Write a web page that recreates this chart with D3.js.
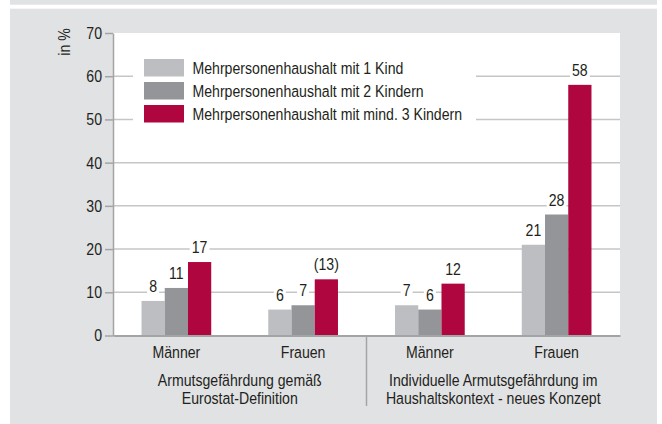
<!DOCTYPE html>
<html>
<head>
<meta charset="utf-8">
<script src="https://cdn.jsdelivr.net/npm/d3@7"></script>
<style>
  body { margin: 0; background: #fff; }
  svg text { font-family: "Liberation Sans", Arial, sans-serif; fill: #231f20; }
</style>
</head>
<body>
<div id="chart"></div>
<script>
const categories = ["Männer", "Frauen", "Männer", "Frauen"];
const groupTitles = [
  ["Armutsgefährdung gemäß", "Eurostat-Definition"],
  ["Individuelle Armutsgefährdung im", "Haushaltskontext - neues Konzept"]
];
const seriesNames = [
  "Mehrpersonenhaushalt mit 1 Kind",
  "Mehrpersonenhaushalt mit 2 Kindern",
  "Mehrpersonenhaushalt mit mind. 3 Kindern"
];
const seriesColors = ["#bdbec1", "#949598", "#b00640"];
const kind1 = [8, 6, 7, 21];
const kind2 = [11, 7, 6, 28];
const kind3 = [17, 13, 12, 58];
const kind3Labels = ["17", "(13)", "12", "58"];
const yTicks = [0, 10, 20, 30, 40, 50, 60, 70];

const W = 662, H = 424;
const PLOT = { LEFT: 113, RIGHT: 620, TOP: 33, BOTTOM: 335.5 };
const SQUEEZE = 0.83;   // fake a narrow face
const FS = "17px";

const svg = d3.select("#chart").append("svg")
  .attr("width", W)
  .attr("height", H);

// text placed in a horizontally squeezed group
function narrowText(parent, x, y, str, anchor) {
  const g = parent.append("g").attr("transform", `translate(${x},${y}) scale(${SQUEEZE},1)`);
  g.append("text")
    .attr("text-anchor", anchor || "start")
    .attr("font-size", FS)
    .text(str);
  return g;
}

// background panels
svg.append("rect").attr("x", 10).attr("y", 0).attr("width", 647).attr("height", 4.7).attr("fill", "#e1e2e4");
svg.append("rect").attr("x", 10).attr("y", 8.7).attr("width", 647).attr("height", H - 8.7).attr("fill", "#e1e2e4");
svg.append("rect")
  .attr("x", PLOT.LEFT).attr("y", PLOT.TOP)
  .attr("width", PLOT.RIGHT - PLOT.LEFT).attr("height", PLOT.BOTTOM - PLOT.TOP)
  .attr("fill", "#fff");

const data = categories.map((c, i) => ({ i, cat: c, vals: [kind1[i], kind2[i], kind3[i]] }));

const x0 = d3.scaleBand()
  .domain(d3.range(categories.length))
  .range([PLOT.LEFT, PLOT.RIGHT])
  .paddingInner(0.45)
  .paddingOuter(0.225);

const x1 = d3.scaleBand()
  .domain(d3.range(seriesNames.length))
  .range([0, x0.bandwidth()])
  .padding(0);

const y = d3.scaleLinear().domain([0, 70]).range([PLOT.BOTTOM, PLOT.TOP]);

// gridlines
svg.append("g").selectAll("line")
  .data(yTicks.filter(t => t > 0 && t < 70))
  .enter().append("line")
  .attr("x1", PLOT.LEFT).attr("x2", PLOT.RIGHT)
  .attr("y1", d => y(d)).attr("y2", d => y(d))
  .attr("stroke", "#c5c6c8")
  .attr("stroke-width", 1.5);

// legend box (covers gridlines)
const legend = svg.append("g").attr("transform", "translate(133,50)");
legend.append("rect").attr("width", 343).attr("height", 80).attr("fill", "#fff");
seriesNames.forEach((s, k) => {
  const g = legend.append("g").attr("transform", `translate(11,${9 + k * 23})`);
  g.append("rect").attr("width", 40).attr("height", 17.5).attr("fill", seriesColors[k]);
  narrowText(g, 48.5, 14.5, s);
});

// bars
const groups = svg.append("g").selectAll("g")
  .data(data)
  .enter().append("g")
  .attr("transform", d => `translate(${x0(d.i)},0)`);

groups.selectAll("rect")
  .data(d => d.vals.map((v, k) => ({ k, v })))
  .enter().append("rect")
  .attr("x", d => x1(d.k))
  .attr("y", d => y(d.v))
  .attr("width", x1.bandwidth())
  .attr("height", d => y(0) - y(d.v))
  .attr("fill", d => seriesColors[d.k]);

// value labels with white backing
groups.each(function(d) {
  const g = d3.select(this);
  d.vals.forEach((v, k) => {
    const txt = k === 2 ? kind3Labels[d.i] : String(v);
    const lg = narrowText(g, x1(k) + x1.bandwidth() / 2, y(v) - 9, txt, "middle");
    const bb = lg.select("text").node().getBBox();
    lg.insert("rect", "text")
      .attr("x", bb.x - 2.5).attr("y", bb.y + 2)
      .attr("width", bb.width + 5).attr("height", bb.height - 3)
      .attr("fill", "#fff");
  });
});

// y axis
const yAxis = d3.axisLeft(y).tickValues(yTicks).tickSize(8).tickSizeOuter(0).tickPadding(3);
const gy = svg.append("g")
  .attr("transform", `translate(${PLOT.LEFT},0)`)
  .call(yAxis);
gy.select(".domain").attr("stroke", "#a3a4a6").attr("stroke-width", 1.5);
gy.selectAll(".tick line").attr("stroke", "#a3a4a6").attr("stroke-width", 1.5);
gy.selectAll(".tick text")
  .attr("font-size", "17px").attr("font-family", null).attr("fill", "#231f20")
  .attr("x", -11 / SQUEEZE)
  .attr("transform", `scale(${SQUEEZE},1)`);

const yl = narrowText(svg, 0, 0, "in %", "middle");
yl.attr("transform", `translate(70,42) rotate(-90) scale(${SQUEEZE},1)`);

// x axis
const xAxis = d3.axisBottom(x0).tickSize(0).tickPadding(10).tickFormat(i => categories[i]);
const gx = svg.append("g")
  .attr("transform", `translate(0,${PLOT.BOTTOM})`)
  .call(xAxis);
gx.select(".domain").attr("stroke", "#a3a4a6").attr("stroke-width", 2);
gx.selectAll(".tick text")
  .attr("font-size", FS).attr("font-family", null).attr("fill", "#231f20")
  .attr("transform", `scale(${SQUEEZE},1)`);

// separator between the two concepts
const sepX = (x0(1) + x0.bandwidth() + x0(2)) / 2;
svg.append("line")
  .attr("x1", sepX).attr("x2", sepX)
  .attr("y1", PLOT.BOTTOM).attr("y2", 406)
  .attr("stroke", "#a3a4a6")
  .attr("stroke-width", 1.5);

// group titles
groupTitles.forEach((lines, gi) => {
  const cx = (x0(gi * 2) + x0(gi * 2 + 1) + x0.bandwidth()) / 2;
  lines.forEach((l, li) => {
    narrowText(svg, cx, 386 + li * 17.5, l, "middle");
  });
});
</script>
</body>
</html>
